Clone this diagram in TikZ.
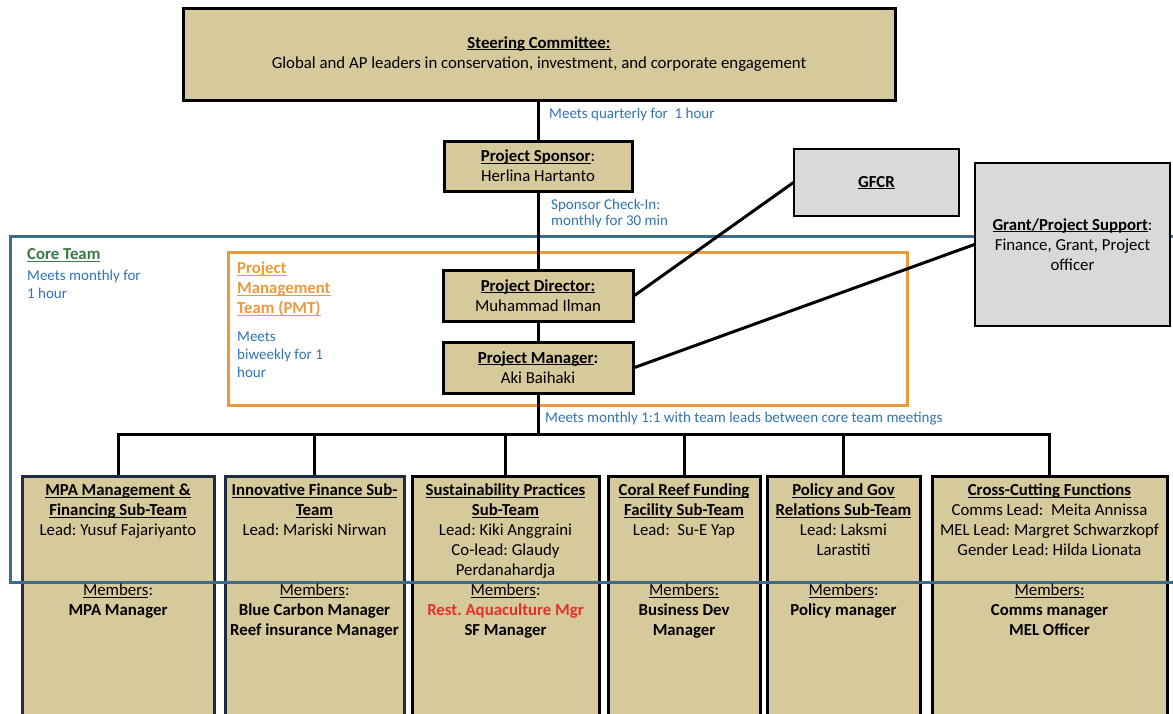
\documentclass[tikz,border=0pt]{standalone}
\usepackage{fontspec}
\setmainfont{Carlito}
\frenchspacing

\definecolor{boxtan}{HTML}{D6C99B}
\definecolor{boxgrey}{HTML}{D9D9D9}
\definecolor{noteblue}{HTML}{2E74B5}
\definecolor{coreblue}{HTML}{3E6A8C}
\definecolor{pmtorange}{HTML}{EA9A3E}
\definecolor{coregreen}{HTML}{3A7A44}
\definecolor{navy}{HTML}{1F2D44}
\definecolor{alertred}{HTML}{E8302A}

% underline just below the baseline, as in a word processor
\newlength\ulwd
\newcommand\uln[1]{\leavevmode\settowidth{\ulwd}{#1}\rlap{\rule[-2pt]{\ulwd}{1pt}}#1}
% fixed first-line height so text blocks can be placed by their top edge
\newcommand\tstr{\rule{0pt}{13pt}}
\newcommand\bodyfont{\fontsize{16.8}{20}\selectfont}
\newcommand\notefont{\fontsize{15}{18}\selectfont}

\tikzset{
  tanbox/.style={draw=black, line width=3pt, fill=boxtan, inner sep=0pt,
    align=center, font=\bodyfont},
  greybox/.style={draw=black, line width=1.2pt, fill=boxgrey, inner sep=0pt,
    align=center, font=\bodyfont},
  subbox/.style={tanbox, anchor=north, minimum height=245pt},
  navybox/.style={subbox, draw=navy},
  subtext/.style={inner sep=0pt, anchor=north, align=center, font=\bodyfont},
  note/.style={inner sep=0pt, anchor=north west, align=left, text=noteblue, font=\notefont},
  frame/.style={line width=3pt},
  link/.style={draw=black, line width=3pt},
}

\begin{document}
\begin{tikzpicture}[x=1pt, y=-1pt]
\useasboundingbox (0,0) rectangle (1173,713);
\clip (0,0) rectangle (1173,713);

% sub-team boxes
\node[navybox, minimum width=192pt] (mpa)  at (118,475)   {};
\node[navybox, minimum width=179pt] (fin)  at (314.5,475) {};
\node[subbox,  minimum width=187pt] (sus)  at (505.5,475) {};
\node[subbox,  minimum width=152pt] (crf)  at (684,475)   {};
\node[subbox,  minimum width=153pt] (pol)  at (843.5,475) {};
\node[subbox,  minimum width=235pt] (cross) at (1049.5,475) {};

% core team and PMT frames
\draw[frame, coreblue] (10,236) rectangle (1190,582);
\draw[frame, pmtorange] (228,252) rectangle (907,405);

% leadership boxes
\node[tanbox, minimum width=712pt, minimum height=92pt] (steer) at (539,54)
  {\textbf{\uln{Steering Committee:}}\\Global and AP leaders in conservation, investment, and corporate engagement};
\node[tanbox, minimum width=188pt, minimum height=50pt] (sponsor) at (538,166)
  {\textbf{\uln{Project Sponsor}}:\\Herlina Hartanto};
\node[tanbox, minimum width=190pt, minimum height=51pt] (director) at (538,295.5)
  {\textbf{\uln{Project Director:}}\\Muhammad Ilman};
\node[tanbox, minimum width=190pt, minimum height=51pt] (manager) at (538,367.5)
  {\textbf{\uln{Project Manager}:}\\Aki Baihaki};
\node[greybox, minimum width=165pt, minimum height=67pt] (gfcr) at (876.5,182.5)
  {\textbf{\uln{GFCR}}};
\node[greybox, minimum width=195pt, minimum height=163pt] (grant) at (1072.5,244.5)
  {\textbf{\uln{Grant/Project Support}}:\\Finance, Grant, Project\\officer};

% connectors
\coordinate (bus) at (538,434);
\draw[link] (steer.south -| sponsor.north) -- (sponsor.north);
\draw[link] (sponsor.south) -- (director.north);
\draw[link] (director.south) -- (manager.north);
\draw[link] (manager.south) -- (bus);
\draw[link] (director.east) -- (gfcr.west);
\draw[link] (manager.east) -- (grant.west);
\foreach \t in {mpa,fin,sus,crf,pol,cross}
  \draw[link] (bus) -| (\t.north);

% meeting notes
\node[note] (nq) at (549,105.5) {\tstr Meets quarterly for\ \ 1 hour};
\node[note, font=\fontsize{15}{16}\selectfont] (nsp) at (551,196.5)
  {\tstr Sponsor Check-In:\\monthly for 30 min};
\node[note, text=coregreen, font=\bodyfont] (coreh) at (27,246.5) {\tstr\textbf{\uln{Core Team}}};
\node[note] (coren) at (27,267.5) {\tstr Meets monthly for\\1 hour};
\node[note, text=pmtorange, font=\bodyfont] (pmth) at (237,260.5)
  {\tstr\textbf{\uln{Project}}\\\textbf{\uln{Management}}\\\textbf{\uln{Team (PMT)}}};
\node[note] (pmtn) at (237,328.5) {\tstr Meets\\biweekly for 1\\hour};
\node[note] (nlead) at (545,409.5)
  {\tstr Meets monthly 1:1 with team leads between core team meetings};

% sub-team contents
\node[subtext] (mpah) at (118,482.5)
  {\tstr\textbf{\uln{MPA Management \&}}\\\textbf{\uln{Financing Sub-Team}}\\Lead: Yusuf Fajariyanto};
\node[subtext] (mpam) at (118,582.5)
  {\tstr\uln{Members}:\\\textbf{MPA Manager}};

\node[subtext] (finh) at (314.5,482.5)
  {\tstr\textbf{\uln{Innovative Finance Sub-}}\\\textbf{\uln{Team}}\\Lead: Mariski Nirwan};
\node[subtext] (finm) at (314.5,582.5)
  {\tstr\uln{Members}:\\\textbf{Blue Carbon Manager}\\\textbf{Reef insurance Manager}};

\node[subtext] (sush) at (505.5,482.5)
  {\tstr\textbf{\uln{Sustainability Practices}}\\\textbf{\uln{Sub-Team}}\\Lead: Kiki Anggraini\\Co-lead: Glaudy\\Perdanahardja};
\node[subtext] (susm) at (505.5,582.5)
  {\tstr\uln{Members}:\\\textcolor{alertred}{\textbf{Rest. Aquaculture Mgr}}\\\textbf{SF Manager}};

\node[subtext] (crfh) at (684,482.5)
  {\tstr\textbf{\uln{Coral Reef Funding}}\\\textbf{\uln{Facility Sub-Team}}\\Lead:\ \ Su-E Yap};
\node[subtext] (crfm) at (684,582.5)
  {\tstr\uln{Members:}\\\textbf{Business Dev}\\\textbf{Manager}};

\node[subtext] (polh) at (843.5,482.5)
  {\tstr\textbf{\uln{Policy and Gov}}\\\textbf{\uln{Relations Sub-Team}}\\Lead: Laksmi\\Larastiti};
\node[subtext] (polm) at (843.5,582.5)
  {\tstr\uln{Members}:\\\textbf{Policy manager}};

\node[subtext] (crossh) at (1049.5,482.5)
  {\tstr\textbf{\uln{Cross-Cutting Functions}}\\Comms Lead:\ \ Meita Annissa\\MEL Lead: Margret Schwarzkopf\\Gender Lead: Hilda Lionata};
\node[subtext] (crossm) at (1049.5,582.5)
  {\tstr\uln{Members:}\\\textbf{Comms manager}\\\textbf{MEL Officer}};
\end{tikzpicture}
\end{document}
